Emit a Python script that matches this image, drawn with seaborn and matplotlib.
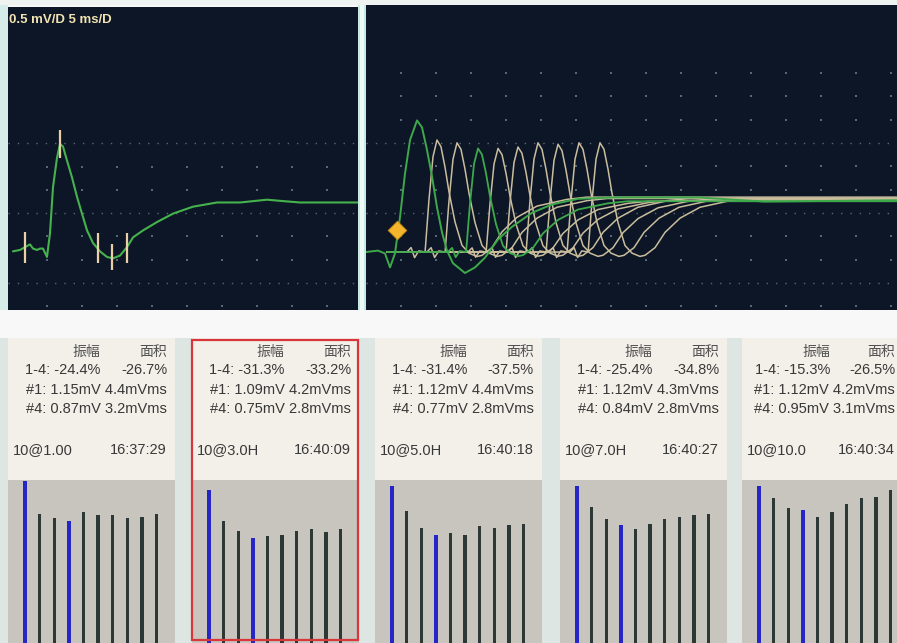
import matplotlib
matplotlib.use("Agg")
import numpy as np
import pandas as pd
import matplotlib.pyplot as plt
from matplotlib.patches import Rectangle
from matplotlib import font_manager
import seaborn as sns

sns.set_theme(style="white")
plt.rcParams["font.family"] = ["Liberation Sans", "Noto Sans CJK SC"]

# ---------------------------------------------------------------- data
# single response (left scope): time in ms, voltage in mV
single_t = [0.71, 1.71, 2.43, 3.14, 3.57, 4.14, 4.57, 5.0, 5.57, 6.0,
            6.43, 7.0, 7.43, 7.86, 8.43, 9.14, 9.86, 10.57, 11.29, 12.14,
            13.14, 14.14, 15.0, 16.0, 17.0, 17.86, 19.29, 21.29, 23.57, 26.43,
            29.86, 33.14, 37.0, 39.29, 41.71, 45.57, 46.43, 50.0]
single_v = [-0.01, 0.0, 0.02, 0.04, 0.01, 0.0, 0.01, 0.01, -0.05, 0.12,
            0.45, 0.66, 0.76, 0.74, 0.64, 0.52, 0.38, 0.26, 0.14, 0.05,
            -0.01, -0.05, -0.06, -0.04, 0.02, 0.09, 0.14, 0.20, 0.26, 0.31,
            0.34, 0.34, 0.36, 0.35, 0.34, 0.34, 0.34, 0.34]
cursor_t = [2.43, 7.43, 12.86, 14.86, 17.0]
cursor_lo = [-0.09, 0.66, -0.09, -0.14, -0.09]
cursor_hi = [0.13, 0.86, 0.12, 0.04, 0.12]

# train of 10 responses (right scope); response 1 recorded in full
first_t = [0.0, 1.71, 2.71, 3.43, 4.14, 4.86, 5.57, 6.29, 7.29, 8.0,
           8.71, 9.43, 10.14, 10.86, 11.57, 12.43, 14.14, 15.57, 17.0, 18.86,
           20.86, 23.71, 26.57, 30.29, 35.57, 38.0, 47.43, 57.0, 75.9]
first_v = [0.0, 0.01, -0.01, -0.11, -0.01, 0.25, 0.56, 0.80, 0.94, 0.89,
           0.73, 0.54, 0.32, 0.14, 0.01, -0.08, -0.15, -0.11, -0.04, 0.09,
           0.18, 0.28, 0.34, 0.38, 0.39, 0.39, 0.39, 0.36, 0.37]
# shape of responses 2-10 around their peak (peak = 1)
shape_dt = [-4.3, -3.7, -3.2, -2.6, -1.7, -1.14, -0.57, 0.0, 0.57, 1.14,
            1.71, 2.57, 3.57, 4.57, 5.71, 6.43, 7.86, 9.29, 11.43, 14.29,
            18.57, 21.43]
shape_v = [0.0, 0.04, -0.05, 0.01, 0.0, 0.47, 0.85, 1.0, 0.94, 0.76,
           0.54, 0.27, 0.06, -0.01, -0.04, -0.03, 0.04, 0.18, 0.31, 0.41,
           0.47, 0.49]
train_no = [2, 3, 4, 5, 6, 7, 8, 9, 10]
train_peak_t = [10.14, 13.0, 16.0, 18.86, 21.71, 24.57, 27.43, 30.43, 33.43]
train_peak_v = [0.80, 0.78, 0.74, 0.74, 0.75, 0.78, 0.77, 0.78, 0.78]
stim_t, stim_v = [4.43], [0.157]

# summary panels
header = ("振幅", "面积")
rates = ["10@1.00", "10@3.0H", "10@5.0H", "10@7.0H", "10@10.0"]
clock = ["16:37:29", "16:40:09", "16:40:18", "16:40:27", "16:40:34"]
amp_decr = ["-24.4%", "-31.3%", "-31.4%", "-25.4%", "-15.3%"]
area_decr = ["-26.7%", "-33.2%", "-37.5%", "-34.8%", "-26.5%"]
amp1 = [1.15, 1.09, 1.12, 1.12, 1.12]
area1 = [4.4, 4.2, 4.4, 4.3, 4.2]
amp4 = [0.87, 0.75, 0.77, 0.84, 0.95]
area4 = [3.2, 2.8, 2.8, 2.8, 3.1]
mid_amps = [  # responses 2, 3, 5-10 of each train (mV)
    [0.92, 0.89, 0.93, 0.91, 0.91, 0.89, 0.90, 0.92],
    [0.87, 0.80, 0.76, 0.77, 0.80, 0.81, 0.79, 0.81],
    [0.94, 0.82, 0.78, 0.77, 0.83, 0.82, 0.84, 0.85],
    [0.97, 0.88, 0.81, 0.85, 0.88, 0.90, 0.91, 0.92],
    [1.03, 0.96, 0.90, 0.93, 0.99, 1.03, 1.04, 1.09],
]
selected = 1

# ---------------------------------------------------------------- style
W, H = 897, 643
SCOPE_BG = "#0d1626"
GRID = "#56677b"
GREEN = "#3ea94a"
BEIGE = "#c9bd9d"
CURSOR = "#e8cfa6"
PANEL_BG = "#f3f0e9"
PLOT_BG = "#c8c5bf"
TEXT = "#383838"
BLUE = "#2626c6"
DARK = "#2b3836"

fig = plt.figure(figsize=(W / 100, H / 100), dpi=100, facecolor="#f6f7f6")


def place(x0, y0, x1, y1):
    return fig.add_axes([x0 / W, 1 - y1 / H, (x1 - x0) / W, (y1 - y0) / H])


def bare(ax):
    ax.set_xticks([])
    ax.set_yticks([])
    ax.set_xlabel("")
    ax.set_ylabel("")
    for s in ax.spines.values():
        s.set_visible(False)


# screen frame and gaps
bg = place(0, 0, W, H)
bg.set_xlim(0, W)
bg.set_ylim(H, 0)
bare(bg)
bg.set_facecolor("#f7f8f7")
bg.add_patch(Rectangle((0, 0), W, 5, color="#eef2f1", lw=0))
bg.add_patch(Rectangle((0, 5), 8, 305, color="#d6ece9", lw=0))
bg.add_patch(Rectangle((358, 5), 8, 305, color="#c9eae4", lw=0))
bg.add_patch(Rectangle((360, 5), 4, 305, color="#eefaf6", lw=0))
bg.add_patch(Rectangle((0, 338), W, 305, color="#dde6e2", lw=0))


def scope(ax, xlim, ylim, row0, rows, cols):
    ax.set_facecolor(SCOPE_BG)
    ax.set_xlim(*xlim)
    ax.set_ylim(*ylim)
    step = 0.5 / 3
    dense = [row0 + k * step for k in rows if k % 3 == 0 and k < 9]
    sparse = [row0 + k * step for k in rows if not (k % 3 == 0 and k < 9)]
    ax.hlines(dense, xlim[0], xlim[1], colors=GRID, lw=1.0,
              linestyles=(0, (1, 5.7)), zorder=1)
    gx, gy = np.meshgrid(cols, sparse)
    ax.scatter(gx.ravel(), gy.ravel(), s=2.5, color=GRID, marker="s",
               linewidths=0, zorder=1)
    bare(ax)


# left scope: single response with cursors
axl = place(8, 7, 358, 310)
scope(axl, (0, 50), (-0.43, 1.74), -0.236, range(-1, 7),
      np.arange(5.57, 50, 5))
sns.lineplot(x=single_t, y=single_v, ax=axl, color="#45b24d", lw=1.5,
             sort=False, estimator=None, zorder=3)
axl.vlines(cursor_t, cursor_lo, cursor_hi, colors=CURSOR, lw=1.6, zorder=4)
names = {f.name for f in font_manager.fontManager.ttflist}
scale_font = ("Liberation Sans Narrow" if "Liberation Sans Narrow" in names
              else "Liberation Sans")
axl.text(0.004, 0.958, "0.5 mV/D 5 ms/D", transform=axl.transAxes,
         ha="left", va="center", color="#f1e3b2", fontsize=9.5,
         fontweight="bold", family=scale_font)
bare(axl)

# right scope: superimposed train
axr = place(366, 5, W, 310)
scope(axr, (0, 75.86), (-0.414, 1.764), -0.221, range(-1, 10),
      np.arange(5.0, 76, 5))
for n, pt, pv in zip(train_no, train_peak_t, train_peak_v):
    t = np.concatenate([[3.0], pt + np.array(shape_dt), [75.9]])
    v = np.concatenate([[0.0], pv * np.array(shape_v), [pv * shape_v[-1]]])
    if n != 4:
        sns.lineplot(x=t, y=v, ax=axr, color=BEIGE, lw=1.1, sort=False,
                     estimator=None, zorder=2)
for n, pt, pv in zip(train_no, train_peak_t, train_peak_v):
    if n == 4:
        t = np.concatenate([[3.0], pt + np.array(shape_dt), [75.9]])
        v = np.concatenate([[0.0], pv * np.array(shape_v), [pv * shape_v[-1]]])
        sns.lineplot(x=t, y=v, ax=axr, color=GREEN, lw=1.3, sort=False,
                     estimator=None, zorder=3)
sns.lineplot(x=first_t, y=first_v, ax=axr, color=GREEN, lw=1.4, sort=False,
             estimator=None, zorder=4)
sns.scatterplot(x=stim_t, y=stim_v, ax=axr, marker="D", s=90,
                color="#f2b52c", edgecolor="#c98a10", linewidth=0.6, zorder=5)
bare(axr)

# summary panels (the last one runs into the screen edge)
panel_left = [8, 192, 375, 560, 742]
col1_right = [92, 92, 92, 92, 88]
col2_right = [159, 159, 159, 159, 153]
PW = 167
for i, L in enumerate(panel_left):
    c1, c2 = col1_right[i], col2_right[i]
    tx = place(L, 338, L + PW, 480)
    tx.set_xlim(0, PW)
    tx.set_ylim(142, 0)
    tx.set_facecolor(PANEL_BG)
    bare(tx)
    fs = 10.5
    tx.text(c1, 14, header[0], ha="right", va="center", color="#505050",
            fontsize=10, family="Noto Sans CJK SC")
    tx.text(c2, 14, header[1], ha="right", va="center", color="#505050",
            fontsize=10, family="Noto Sans CJK SC")
    tx.text(c1, 32, f"1-4: {amp_decr[i]}", ha="right", va="center",
            color=TEXT, fontsize=fs)
    tx.text(c2, 32, area_decr[i], ha="right", va="center", color=TEXT,
            fontsize=fs)
    tx.text(c2, 52, f"#1: {amp1[i]:.2f}mV {area1[i]:.1f}mVms", ha="right",
            va="center", color=TEXT, fontsize=fs)
    tx.text(c2, 71, f"#4: {amp4[i]:.2f}mV {area4[i]:.1f}mVms", ha="right",
            va="center", color=TEXT, fontsize=fs)
    tx.text(5, 112, rates[i], ha="left", va="center", color=TEXT, fontsize=fs)
    tx.text(c2, 112, clock[i], ha="right", va="center", color=TEXT,
            fontsize=fs)

    amps = [amp1[i]] + mid_amps[i][:2] + [amp4[i]] + mid_amps[i][2:]
    df = pd.DataFrame({
        "stim": np.arange(1, 11),
        "amp": amps,
        "kind": ["ref" if k in (1, 4) else "other" for k in range(1, 11)],
    })
    bx = place(L, 480, L + PW, H)
    sns.barplot(data=df, x="stim", y="amp", hue="kind",
                palette={"ref": BLUE, "other": DARK}, dodge=False, width=0.24,
                saturation=1, errorbar=None, legend=False, linewidth=0, ax=bx)
    bx.set_xlim(-1.17, 10.27)
    bx.set_ylim(0, 1.16)
    bx.set_facecolor(PLOT_BG)
    bare(bx)

# highlight frame around the selected train
ov = place(0, 0, W, H)
ov.set_xlim(0, W)
ov.set_ylim(H, 0)
ov.axis("off")
ov.set_zorder(20)
L = panel_left[selected]
ov.add_patch(Rectangle((L, 340), PW - 1, 300, fill=False, ec="#d8363b",
                       lw=1.6))

fig.savefig("out.png", dpi=100, facecolor=fig.get_facecolor())
